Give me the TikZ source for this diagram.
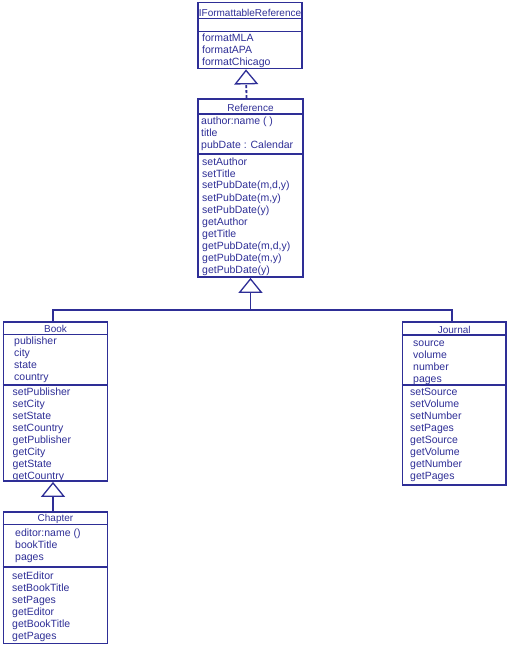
\documentclass[tikz,border=0pt]{standalone}
\usepackage{fontspec}
\setmainfont{Liberation Sans}
\usepackage{tikz}
\usetikzlibrary{positioning,arrows.meta}

\definecolor{umlblue}{RGB}{46,46,150}

\begin{document}
\begin{tikzpicture}
    [ x = 1pt, y = -1pt
    , class/.style =
      { draw = umlblue, line width = 1.8pt, inner sep = 0pt }
    , divider/.style =
      { umlblue, line width = 1.8pt }
    , classname/.style =
      { text = umlblue, inner sep = 0pt, anchor = base
      , font = \fontsize{10}{12}\selectfont }
    , member/.style =
      { classname, anchor = base west
      , font = \fontsize{10.5}{12}\selectfont }
    , edge/.style =
      { umlblue, line width = 1.8pt }
    , inherit/.style =
      { edge, -{Triangle[open, length=15pt, width=24pt, line width=1.3pt]} }
    , realize/.style =
      { inherit, dash pattern = on 3pt off 2pt }
    ]
    \useasboundingbox (0,0) rectangle (509,647);

    % class boxes
    \node [class, minimum width=104, minimum height=66] (iface) at (250,35.5) {};
    \node [class, minimum width=105, minimum height=178] (reference) at (250.5,188) {};
    \node [class, minimum width=104, minimum height=159] (book) at (55.5,401.5) {};
    \node [class, minimum width=103.5, minimum height=163] (journal) at (454.25,403.5) {};
    \node [class, minimum width=104, minimum height=131.5] (chapter) at (55.5,577.75) {};

    \draw [divider] (iface.west |- 0,18.5) -- (iface.east |- 0,18.5);
    \draw [divider] (iface.west |- 0,31.5) -- (iface.east |- 0,31.5);
    \draw [divider] (reference.west |- 0,114) -- (reference.east |- 0,114);
    \draw [divider] (reference.west |- 0,154) -- (reference.east |- 0,154);
    \draw [divider] (book.west |- 0,334.5) -- (book.east |- 0,334.5);
    \draw [divider] (book.west |- 0,385) -- (book.east |- 0,385);
    \draw [divider] (journal.west |- 0,335) -- (journal.east |- 0,335);
    \draw [divider] (journal.west |- 0,385) -- (journal.east |- 0,385);
    \draw [divider] (chapter.west |- 0,524.5) -- (chapter.east |- 0,524.5);
    \draw [divider] (chapter.west |- 0,567) -- (chapter.east |- 0,567);

    % IFormattableReference
    \node [classname] (iface-name) at (250,16.5) {IFormattableReference};
    \node [member] (formatMLA) at (202,41.5) {formatMLA};
    \node [member] (formatAPA) at (202,53.5) {formatAPA};
    \node [member] (formatChicago) at (202,65.5) {formatChicago};

    % Reference
    \node [classname] (reference-name) at (250.5,111.5) {Reference};
    \node [member] (author) at (201,125) {author:name ( )};
    \node [member] (title) at (201,137) {title};
    \node [member] (pubDate) at (201,149) {pubDate : Calendar};
    \node [member] (setAuthor) at (202,165) {setAuthor};
    \node [member] (setTitle) at (202,177) {setTitle};
    \node [member] (setPubDate-mdy) at (202,189) {setPubDate(m,d,y)};
    \node [member] (setPubDate-my) at (202,201) {setPubDate(m,y)};
    \node [member] (setPubDate-y) at (202,213) {setPubDate(y)};
    \node [member] (getAuthor) at (202,225) {getAuthor};
    \node [member] (getTitle) at (202,237) {getTitle};
    \node [member] (getPubDate-mdy) at (202,249) {getPubDate(m,d,y)};
    \node [member] (getPubDate-my) at (202,261) {getPubDate(m,y)};
    \node [member] (getPubDate-y) at (202,273) {getPubDate(y)};

    % Book
    \node [classname] (book-name) at (55.5,332) {Book};
    \node [member] (publisher) at (14,344.5) {publisher};
    \node [member] (city) at (14,356.5) {city};
    \node [member] (state) at (14,368.5) {state};
    \node [member] (country) at (14,380.5) {country};
    \node [member] (setPublisher) at (12.5,395) {setPublisher};
    \node [member] (setCity) at (12.5,407) {setCity};
    \node [member] (setState) at (12.5,419) {setState};
    \node [member] (setCountry) at (12.5,431) {setCountry};
    \node [member] (getPublisher) at (12.5,443) {getPublisher};
    \node [member] (getCity) at (12.5,455) {getCity};
    \node [member] (getState) at (12.5,467) {getState};
    \node [member] (getCountry) at (12.5,479) {getCountry};

    % Journal
    \node [classname] (journal-name) at (454.25,333) {Journal};
    \node [member] (source) at (413,346) {source};
    \node [member] (volume) at (413,358) {volume};
    \node [member] (number) at (413,370) {number};
    \node [member] (j-pages) at (413,382) {pages};
    \node [member] (setSource) at (410,395) {setSource};
    \node [member] (setVolume) at (410,407) {setVolume};
    \node [member] (setNumber) at (410,419) {setNumber};
    \node [member] (j-setPages) at (410,431) {setPages};
    \node [member] (getSource) at (410,443) {getSource};
    \node [member] (getVolume) at (410,455) {getVolume};
    \node [member] (getNumber) at (410,467) {getNumber};
    \node [member] (j-getPages) at (410,479) {getPages};

    % Chapter
    \node [classname] (chapter-name) at (55.5,521) {Chapter};
    \node [member] (editor) at (15,536.5) {editor:name ()};
    \node [member] (bookTitle) at (15,548.5) {bookTitle};
    \node [member] (c-pages) at (15,560.5) {pages};
    \node [member] (setEditor) at (12,579) {setEditor};
    \node [member] (setBookTitle) at (12,591) {setBookTitle};
    \node [member] (c-setPages) at (12,603) {setPages};
    \node [member] (getEditor) at (12,615) {getEditor};
    \node [member] (getBookTitle) at (12,627) {getBookTitle};
    \node [member] (c-getPages) at (12,639) {getPages};

    % relations
    \coordinate (split) at (250.5,310);
    \draw [realize] ([xshift=-4pt]reference.north) -- ([xshift=-4pt]iface.south);
    \draw [edge] ([xshift=-2.5pt]book.north) |- (split) -| ([xshift=-2.5pt]journal.north);
    \draw [inherit] (split) -- (reference.south);
    \draw [inherit] ([xshift=-2.5pt]chapter.north) -- ([xshift=-2.5pt]book.south);
\end{tikzpicture}
\end{document}
